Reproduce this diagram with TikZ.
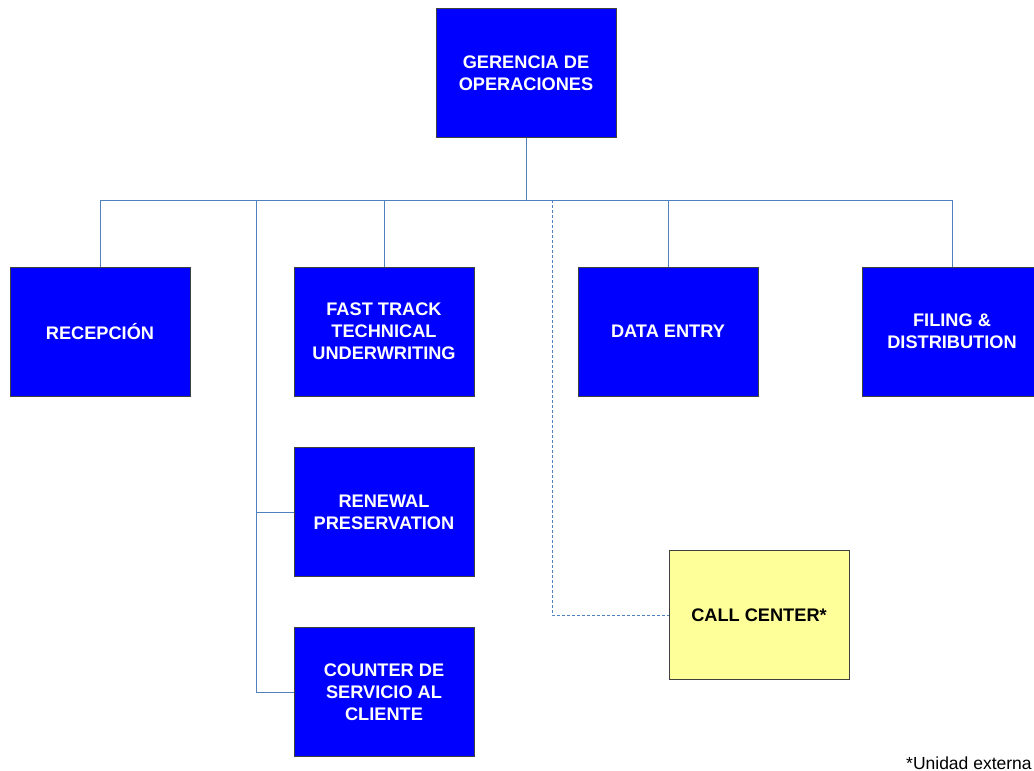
\documentclass[tikz,border=0pt]{standalone}
\usepackage{fontspec}
\setmainfont{Liberation Sans}
\begin{document}
\begin{tikzpicture}[x=1pt,y=-1pt,
  unit/.style={draw=black!75, line width=0.8pt, fill=blue, text=white,
    minimum width=180pt, minimum height=129pt, inner sep=0pt,
    align=center, font=\fontsize{18.2}{22}\selectfont\bfseries},
  extunit/.style={unit, fill={rgb,255:red,255;green,255;blue,153}, text=black},
  link/.style={draw={rgb,255:red,79;green,129;blue,189}, line width=0.9pt},
  extlink/.style={link, dashed, dash pattern=on 3pt off 2pt}]
\useasboundingbox (0,0) rectangle (1034,771);
\clip (0,0) rectangle (1034,771);

% management and its units
\node[unit] (ger) at (526,73) {GERENCIA DE\\OPERACIONES};
\node[unit] (rec) at (100,331.5) {RECEPCIÓN};
\node[unit] (fast) at (384,331.5) {FAST TRACK\\TECHNICAL\\UNDERWRITING};
\node[unit] (data) at (668,331.5) {DATA ENTRY};
\node[unit] (fil) at (952,331.5) {FILING \&\\DISTRIBUTION};
\node[unit] (ren) at (384,512) {RENEWAL\\PRESERVATION};
\node[unit] (cou) at (384,692) {COUNTER DE\\SERVICIO AL\\CLIENTE};
\node[extunit] (call) at (759,615) {CALL CENTER*};

% bus coordinates
\coordinate (busL) at (100,200);
\coordinate (busR) at (952,200);
\coordinate (busM) at (526,200);
\coordinate (side) at (256,200);
\coordinate (ext) at (552,200);

% connectors
\draw[link] (ger.south) -- (busM);
\draw[link] (busL) -- (busR);
\draw[link] (busL) -- (rec.north);
\draw[link] (fast.north |- busL) -- (fast.north);
\draw[link] (data.north |- busL) -- (data.north);
\draw[link] (busR) -- (fil.north);
\draw[link] (side) -- (side |- cou.west) -- (cou.west);
\draw[link] (side |- ren.west) -- (ren.west);
\draw[extlink] (ext) -- (ext |- call.west) -- (call.west);

% footnote
\node[anchor=base west, inner sep=0pt, font=\fontsize{17.5}{21}\selectfont] (note) at (906,769) {*Unidad externa};
\end{tikzpicture}
\end{document}
